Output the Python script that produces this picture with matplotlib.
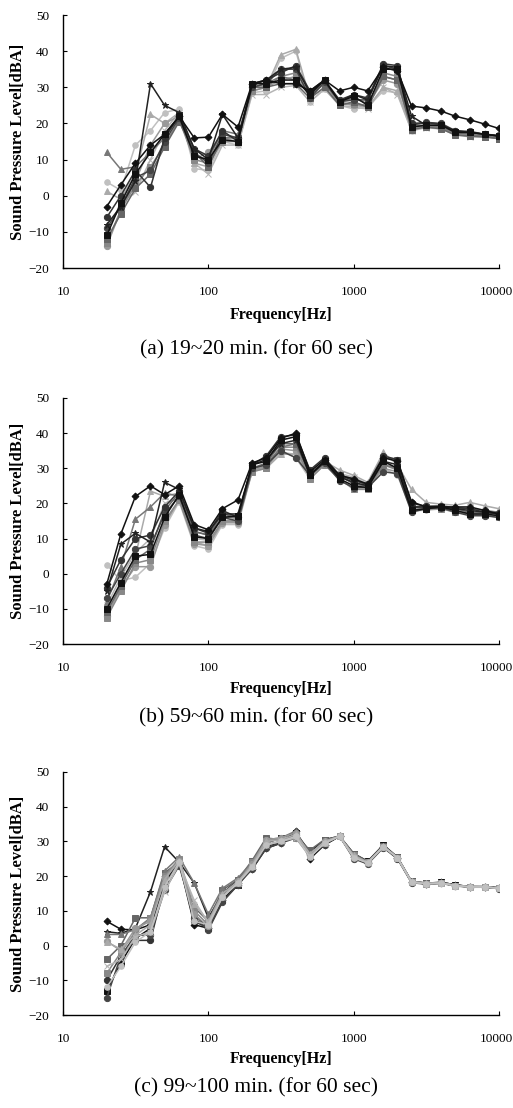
import matplotlib
matplotlib.use("Agg")
import matplotlib.pyplot as plt
from matplotlib.ticker import FixedLocator, FixedFormatter
from matplotlib.transforms import ScaledTranslation

plt.rcParams['font.family'] = ['Liberation Serif', 'DejaVu Serif']

freqs = [20, 25, 31.5, 40, 50, 63, 80, 100, 125, 160, 200, 250, 315, 400, 500,
         630, 800, 1000, 1250, 1600, 2000, 2500, 3150, 4000, 5000, 6300, 8000, 10000]

# Panel (a) 19~20 min.
a_s1 = [-3, 3, 9, 14, 17, 22, 16, 16.2, 22.5, 19, 31, 32, 31, 31, 29, 32, 29, 30, 29, 35.5, 34.5, 24.8, 24.3, 23.4, 22, 21, 19.8, 18.6]
a_s2 = [-8, -3, 4, 31, 25, 23, 13, 10, 22.5, 16, 30.5, 32, 35, 35.5, 28.5, 32, 26, 28, 26.5, 36, 35.5, 22, 19.5, 19.5, 18, 17.5, 17, 16.5]
a_s3 = [12, 7.3, 8, 12, 16, 22, 11, 10, 18, 17, 30, 31, 33, 32, 28, 31, 26, 27, 25.5, 33, 32, 19.5, 19.5, 19, 17.5, 17, 16.5, 16]
a_s4 = [1.2, -1, 6, 22.5, 20, 23, 9, 8, 16, 15, 29, 30, 39, 40.5, 27, 30, 25.5, 25, 24.5, 30, 29, 18.5, 19.2, 19, 17, 16.8, 16.5, 16]
a_s5 = [3.8, 1.5, 14, 18, 23, 24, 7.5, 7, 15, 14, 28.5, 29, 38, 40, 26, 29.5, 25, 24, 24.5, 29, 28.5, 18, 19, 18.8, 17, 16.5, 16.5, 16]
a_s6 = [-11, -2, 6, 12, 17, 22, 11, 10, 15.5, 15, 31, 31, 32, 32, 28, 32, 26, 27.5, 25, 35, 35, 19, 19.5, 19.5, 17.5, 17.5, 17, 16.5]
a_s7 = [-9, -3, 5, 7, 15, 21.5, 12, 9, 17, 16, 30, 31, 35, 35, 27, 31.5, 26, 26.5, 26.5, 36, 35, 19.5, 20.3, 20, 18, 17.8, 17, 16.7]
a_s8 = [-13, -4, 3, 8, 14, 21, 10, 9, 15, 15, 29, 30, 33, 34, 28, 31, 25.5, 25.5, 25, 34, 33, 19, 19.3, 18.8, 17, 16.5, 16.3, 15.8]
a_s9 = [-12, -5, 2, 6, 13.5, 20.5, 12, 8, 16, 16, 30, 30, 31, 31, 27, 30, 25, 26, 24.5, 33, 32, 18.3, 19, 18.5, 16.8, 16.5, 16.3, 15.8]
a_s10 = [-10, -2, 1, 10, 18, 23, 9, 6, 14, 14, 28, 28, 30, 30.5, 26, 29.5, 25, 24.5, 24, 30, 28, 18, 18.8, 18.5, 16.8, 16.3, 16.2, 15.8]
a_s11 = [-6, 0, 7, 2.3, 16, 22, 13, 11, 18, 15, 31, 32, 34, 36, 29, 32, 26.5, 28, 27, 36.5, 36, 20, 20.2, 19.8, 17.8, 17.5, 17, 16.5]
a_s12 = [-14, -4, 4, 14, 20, 22, 10, 12, 17, 16, 30, 30, 32, 33, 27.5, 31, 26, 25, 25, 32, 31, 18.5, 19, 18.8, 17.2, 17, 16.5, 16]

# Panel (b) 59~60 min.
b_s1 = [-3, 11.3, 22, 25, 22.5, 25, 14, 12.5, 18.5, 21, 31.5, 33, 38.5, 40, 29, 32.5, 28, 27, 25.5, 33, 32, 20.5, 19, 19, 19, 19, 18, 17]
b_s2 = [-5, 8.4, 11.5, 9, 26, 24, 13, 12, 17, 17, 31, 32.5, 37, 38, 28, 32, 27.5, 26, 25, 32, 31, 19, 19, 19, 18.5, 18, 17.5, 17]
b_s3 = [-8, 2, 15.5, 19, 23, 22, 12, 11, 16, 16, 30, 31, 36, 37, 28, 32, 28, 27, 25, 31, 30, 19, 18.5, 19, 18.5, 18.5, 18, 17.5]
b_s4 = [-10, -3, 5, 23.5, 22, 23, 9, 8, 15, 15, 29.5, 30, 34, 34, 28, 32, 29.5, 28, 26, 34.5, 31, 24, 20.3, 19.8, 19.5, 20.3, 19.3, 18.5]
b_s5 = [2.6, -2, -1, 3, 13, 20.5, 8, 7, 14, 14, 29, 30, 35, 33, 27, 31, 27, 27.5, 25.5, 30, 28, 18, 18, 18.5, 17.5, 17, 16.8, 16.5]
b_s6 = [-10, -2.5, 5, 5.5, 16, 22.5, 10.5, 10, 16, 16.5, 31, 32, 38, 39, 28, 32, 27, 25, 24.5, 32, 30, 18, 18.5, 19, 18, 17, 17, 16.5]
b_s7 = [-7, 0, 7, 8, 17, 22, 11, 10, 16, 15, 30, 31, 35, 33, 28, 31.5, 26.5, 24.5, 24.5, 29, 28.5, 17.5, 18.5, 18.8, 17.5, 16.5, 16.5, 16]
b_s8 = [-12.5, -5, 3, 4, 15, 21, 9, 9, 15, 15, 29, 30, 36, 36, 27, 31, 27, 24, 24, 31, 29.5, 18, 18.5, 18.5, 17.5, 17, 16.7, 16]
b_s9 = [-11, -3.5, 4, 7, 18, 23, 12, 11, 17, 16, 30, 31.5, 37, 37, 28.5, 32, 28, 25.5, 25, 33, 32.5, 19, 19, 19, 18.5, 17.5, 17.5, 16.8]
b_s10 = [-9, -1, 6, 10, 20, 21.5, 10, 9.5, 16.5, 15.5, 30, 30.5, 34.5, 34, 27.5, 31, 28.5, 27.5, 25, 31.5, 30, 18.5, 18.8, 19.2, 18, 17.5, 17.3, 16.8]
b_s11 = [-4, 4, 10, 11, 19, 23.5, 13, 11.5, 18, 16, 31, 33.5, 39, 39.5, 29.5, 33, 28, 26.5, 25.5, 33.5, 32.5, 20, 19.2, 19.3, 18.8, 18.5, 17.5, 17.3]
b_s12 = [-12, -4, 2, 2, 14, 21, 8.5, 8, 14.5, 14.5, 29.5, 30.5, 35.5, 35, 28, 31.5, 27.5, 26, 24.5, 30, 29, 18.2, 18.3, 18.6, 17.8, 17.2, 17, 16.4]

# Panel (c) 99~100 min.
c_s1 = [7, 4.7, 4.5, 6, 20, 24, 6, 5, 13, 18, 22, 28, 29.5, 33, 25, 29, 31.5, 25.5, 23.8, 28.5, 25.3, 18.3, 17.8, 18.2, 17.5, 16.9, 16.9, 16.5]
c_s2 = [4, 3.5, 5, 15.5, 28.5, 24, 18, 8, 15, 19, 23, 29, 30, 32, 26, 29.5, 31.5, 25.8, 24, 28.5, 25.3, 18.3, 17.8, 18, 17.3, 16.9, 16.9, 16.5]
c_s3 = [3.2, 3.2, 4.6, 8, 21.5, 25.5, 18, 9, 16.5, 19.5, 24, 30.5, 31, 33, 26, 30, 31.5, 26, 24, 28.5, 25.3, 18.5, 18, 18.2, 17.5, 17, 17, 16.6]
c_s4 = [1, -1, 3, 6, 19, 24.5, 12, 7, 15, 18.5, 23, 30, 30.5, 32, 26.5, 30, 31.5, 26, 24, 28.7, 25.3, 18.5, 17.9, 18, 17.3, 16.9, 16.9, 16.5]
c_s5 = [-12, -6, 1, 4, 17, 24, 7, 6, 14, 18, 22.5, 29, 30, 31.5, 25.5, 29.5, 31.5, 25.3, 23.8, 28.5, 25.3, 18.3, 17.8, 18, 17.3, 16.9, 16.9, 16.5]
c_s6 = [-13, -5, 2, 5, 18, 24.5, 9, 5, 13, 17.5, 23.5, 29.5, 31, 32.5, 27, 30.5, 31.5, 26.5, 24.3, 29, 25.5, 18.5, 18, 18.2, 17.5, 17, 17, 16.7]
c_s7 = [-15, -3, 3, 3, 16, 23, 8, 4.5, 12.5, 17.5, 22, 28, 29.5, 31, 26, 29, 31.5, 25, 23.5, 28.2, 25, 18.1, 17.7, 17.9, 17.2, 16.8, 16.8, 16.4]
c_s8 = [-8, -2, 4, 8, 20, 25, 10, 6, 14.5, 18, 24, 30, 30.5, 31, 26, 29.5, 31.5, 26, 24, 28.5, 25.3, 18.3, 17.8, 18, 17.3, 16.9, 16.9, 16.5]
c_s9 = [-4, 0, 8, 8, 21, 24, 11, 7, 16, 19, 24.5, 31, 30.5, 31.5, 27.5, 30.5, 31.5, 26.5, 24.2, 28.8, 25.5, 18.5, 18, 18, 17.3, 17, 16.9, 16.5]
c_s10 = [-6, -4, 2.5, 4, 15.5, 23.5, 13, 6.5, 14, 18, 23, 29, 30, 31, 25.5, 29.5, 31.5, 25.5, 23.8, 28.5, 25.3, 18.3, 17.8, 18, 17.3, 16.9, 16.9, 16.5]
c_s11 = [-10, -3, 1.5, 1.5, 17.5, 24, 7, 5, 13, 17.5, 22.5, 28.5, 29.8, 31.8, 26.5, 30, 31.5, 25.8, 24, 28.5, 25.3, 18.3, 17.8, 18, 17.3, 16.9, 16.9, 16.5]
c_s12 = [1.3, -1.5, 5, 7, 19.5, 24.5, 9, 5.5, 14, 18.5, 23.5, 30.5, 31, 32.5, 26, 30, 31.5, 25.5, 24, 28.5, 25.3, 18.3, 17.8, 18, 17.3, 16.9, 16.9, 16.5]

panel_a = [a_s1, a_s2, a_s3, a_s4, a_s5, a_s6, a_s7, a_s8, a_s9, a_s10, a_s11, a_s12]
panel_b = [b_s1, b_s2, b_s3, b_s4, b_s5, b_s6, b_s7, b_s8, b_s9, b_s10, b_s11, b_s12]
panel_c = [c_s1, c_s2, c_s3, c_s4, c_s5, c_s6, c_s7, c_s8, c_s9, c_s10, c_s11, c_s12]

captions = ["(a) 19~20 min. (for 60 sec)",
            "(b) 59~60 min. (for 60 sec)",
            "(c) 99~100 min. (for 60 sec)"]

y_ticks = [-20, -10, 0, 10, 20, 30, 40, 50]
x_ticks = [10, 100, 1000, 10000]
x_tick_labels = ["10", "100", "1000", "10000"]

styles = [
    ("#111111", "D", 3.5), ("#222222", "*", 5.0), ("#777777", "^", 4.0),
    ("#aaaaaa", "^", 4.0), ("#c0c0c0", "o", 4.0), ("#111111", "s", 4.0),
    ("#444444", "o", 4.5), ("#888888", "s", 4.5), ("#666666", "s", 4.5),
    ("#b5b5b5", "x", 4.0), ("#333333", "o", 4.5), ("#999999", "o", 4.5),
]

W, H = 513, 1108
fig = plt.figure(figsize=(W / 100, H / 100), dpi=100)

boxes = [(15, 268), (398, 644), (772, 1015)]
xlabel_y = [315, 689, 1059]
caption_y = [350, 718, 1088]
left, right = 63, 499

axes = []
for i, (data, cap) in enumerate(zip([panel_a, panel_b, panel_c], captions)):
    top, bot = boxes[i]
    ax = fig.add_axes([left / W, 1 - bot / H, (right - left) / W, (bot - top) / H])
    order = sorted(range(len(data)), key=lambda k: -int(styles[k][0][1:3], 16))
    if i == 2:
        # in the last panel the light series lie on top
        order = order[::-1]
    for k in order:
        col, mk, ms = styles[k]
        ax.plot(freqs, data[k], color=col, marker=mk, markersize=ms, linewidth=1.1,
                markeredgewidth=0.7)
    ax.set_xscale('log')
    ax.set_xlim(10, 10000)
    ax.set_ylim(-20, 50)
    ax.xaxis.set_major_locator(FixedLocator(x_ticks))
    ax.xaxis.set_major_formatter(FixedFormatter(x_tick_labels))
    ax.xaxis.set_minor_locator(FixedLocator([]))
    ax.set_yticks(y_ticks)
    ax.tick_params(direction='in', length=3, width=0.8, labelsize=9.5, colors='black')
    ax.tick_params(axis='y', pad=10)
    ax.tick_params(axis='x', pad=13)
    for s in ['top', 'right']:
        ax.spines[s].set_visible(False)
    for s in ['left', 'bottom']:
        ax.spines[s].set_linewidth(1.0)
    ax.set_ylabel("Sound Pressure Level[dBA]", fontsize=12, fontweight='bold')
    ax.yaxis.set_label_coords((26 - left) / (right - left), 0.5)
    fig.text((left + right) / 2 / W, 1 - xlabel_y[i] / H, "Frequency[Hz]",
             ha='center', va='center', fontsize=11.5, fontweight='bold')
    fig.text(0.5, 1 - caption_y[i] / H, cap, ha='center', va='center', fontsize=15.5)
    axes.append(ax)

# keep the last x tick label inside the figure
fig.canvas.draw()
for ax in axes:
    lab = ax.xaxis.get_major_ticks()[-1].label1
    lab.set_horizontalalignment('right')
    lab.set_transform(lab.get_transform() + ScaledTranslation(14 / 100, 0, fig.dpi_scale_trans))

fig.savefig("out.png", dpi=100)
